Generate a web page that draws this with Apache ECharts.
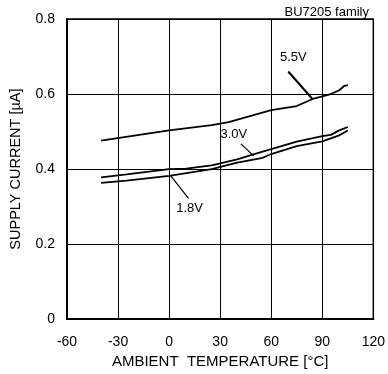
<!DOCTYPE html>
<html><head><meta charset="utf-8">
<script src="https://cdn.jsdelivr.net/npm/echarts@6/dist/echarts.min.js"></script>
<style>html,body{margin:0;padding:0;background:#fff}#c{width:388px;height:374px}</style>
</head><body><div id="c"></div>
<script>
const temps55 = [-40, 0, 25, 35, 60, 75, 85, 90, 95, 100, 103, 105];
const vals55  = [0.476, 0.503, 0.517, 0.525, 0.557, 0.568, 0.588, 0.594, 0.600, 0.610, 0.622, 0.624];
const temps30 = [-40, -25, 0, 10, 25, 40, 50, 60, 75, 90, 95, 100, 105];
const vals30  = [0.378, 0.386, 0.400, 0.401, 0.410, 0.426, 0.440, 0.453, 0.473, 0.488, 0.491, 0.503, 0.512];
const temps18 = [-40, -25, 0, 25, 40, 55, 60, 75, 90, 100, 105];
const vals18  = [0.363, 0.369, 0.382, 0.400, 0.417, 0.430, 0.440, 0.461, 0.474, 0.490, 0.503];
const xTicks = [-60, -30, 0, 30, 60, 90, 120];
const yTicks = [0, 0.2, 0.4, 0.6, 0.8];
const curveNames = ['1.8V', '3.0V', '5.5V'];
// leader lines: [x1,y1,x2,y2] in data units
const leaders = [[11.4, 0.322, 1.0, 0.382], [42.2, 0.467, 49.7, 0.435], [70, 0.66, 84, 0.588]];
const labelX = [12, 38, 73];
const labelY = [0.296, 0.493, 0.698];
const note = 'BU7205 family';

const F = 'Liberation Sans, Arial, sans-serif';
const pairs = (xs, ys) => xs.map((x, i) => [x, ys[i]]);
const curves = [pairs(temps55, vals55), pairs(temps30, vals30), pairs(temps18, vals18)];
const series = [];
curves.forEach((d, i) => series.push({
  type: 'line', data: d, symbol: 'none', silent: true,
  lineStyle: {color: '#000', width: 1.8}
}));
leaders.forEach((l, i) => series.push({
  type: 'line', symbol: 'none', silent: true, z: 10,
  data: [[l[0], l[1]], [l[2], l[3]]],
  lineStyle: {color: '#000', width: i === 2 ? 2 : 1.2}
}));
series.push({
  type: 'custom', silent: true, clip: false,
  data: labelX.map((x, i) => [x, labelY[i], i]),
  renderItem: (params, api) => {
    const pl = api.coord([api.value(0), api.value(1)]);
    return {type: 'text', x: pl[0], y: pl[1], style: {text: curveNames[api.value(2)], fill: '#000', font: '13px ' + F, align: 'center', verticalAlign: 'middle'}};
  }
});

const chart = echarts.init(document.getElementById('c'));
chart.setOption({
  animation: false,
  grid: {left: 66, right: 12, top: 19, bottom: 50, show: true, borderColor: '#000', borderWidth: 1.5, backgroundColor: 'transparent'},
  title: {text: note, right: 14, top: 1, textStyle: {fontSize: 13, fontWeight: 'normal', color: '#000', fontFamily: F}},
  xAxis: {
    type: 'value', min: -60, max: 120, interval: 30,
    name: 'AMBIENT  TEMPERATURE [°C]', nameLocation: 'middle', nameGap: 33,
    nameTextStyle: {fontSize: 15, color: '#000', fontFamily: F},
    axisLine: {onZero: false, lineStyle: {color: '#000', width: 2}},
    axisTick: {show: false},
    axisLabel: {margin: 16, fontSize: 14, color: '#000', fontFamily: F,
      formatter: v => xTicks.includes(v) ? String(v) : ''},
    splitLine: {show: true, lineStyle: {color: '#000', width: 1}}
  },
  yAxis: {
    type: 'value', min: 0, max: 0.8, interval: 0.2,
    name: 'SUPPLY CURRENT [µA]', nameLocation: 'middle', nameGap: 44,
    nameTextStyle: {fontSize: 14.5, color: '#000', fontFamily: F},
    axisLine: {show: true, onZero: false, lineStyle: {color: '#000', width: 2}},
    axisTick: {show: false},
    axisLabel: {margin: 12, fontSize: 14, color: '#000', fontFamily: F,
      formatter: v => { const t = yTicks.find(y => Math.abs(y - v) < 1e-9); return t === undefined ? '' : (t === 0 ? '0' : t.toFixed(1)); }},
    splitLine: {show: true, lineStyle: {color: '#000', width: 1}}
  },
  series: series
});
</script></body></html>
